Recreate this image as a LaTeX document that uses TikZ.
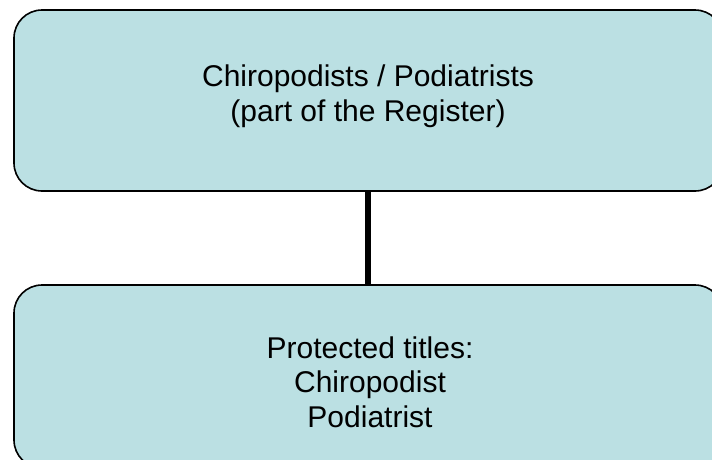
\documentclass[tikz,border=0pt]{standalone}
\usepackage{fontspec}
\setmainfont{Liberation Sans}
\definecolor{boxfill}{HTML}{BBE0E3}
\tikzset{
  regbox/.style={draw=black, line width=1.6pt, fill=boxfill, rounded corners=28pt, inner sep=0pt},
  boxtext/.style={align=center, inner sep=0pt, font=\fontsize{30}{34.5}\selectfont}
}
\begin{document}
\begin{tikzpicture}[x=1pt,y=-1pt]
    \clip (0,0) rectangle (712,459);
    \node[regbox, minimum width=709pt, minimum height=181pt] (reg) at (368.5,100.5) {};
    \node[regbox, minimum width=709pt, minimum height=183pt] (titles) at (368.5,376.5) {};
    \node[boxtext] (regtext) at (368,96) {Chiropodists / Podiatrists\\(part of the Register)};
    \node[boxtext] (titlestext) at (370,382) {Protected titles:\\Chiropodist\\Podiatrist};
    \draw[line width=5.5pt] (reg.south) ++(-0.5,0) coordinate (c1) -- (c1 |- titles.north);
  \end{tikzpicture}
\end{document}
